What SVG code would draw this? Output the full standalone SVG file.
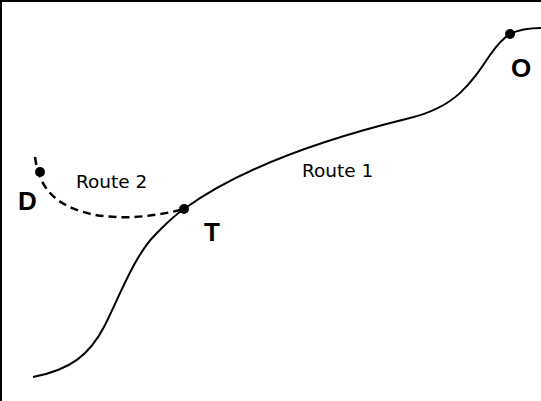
<svg xmlns="http://www.w3.org/2000/svg" width="541" height="401" viewBox="0 0 541 401">
<style>
.route{fill:none;stroke:#000;stroke-width:2}
.dash{stroke-width:2.5;stroke-dasharray:8 5}
.dot{fill:#000}
.lbl{font-family:"Liberation Sans",Arial,sans-serif;font-weight:bold;font-size:26px;fill:#000}
.rl{font-family:"DejaVu Sans","Liberation Sans",sans-serif;font-size:18.5px;fill:#000}
</style>
<rect x="1" y="1" width="545" height="405" fill="#fff" stroke="#000" stroke-width="2"/>
<g id="connectors">
<path id="route1" class="route" d="M33,377 C70,370 90,355 105,325 C120,295 135,255 155,235 C165,225 172,217 184,209 C240,168 320,140 410,118 C455,107 470,85 490,55 C497,45 503,38 510,34 C520,29 530,28 541,28"/>
<path id="route2" class="route dash" d="M35,157 C38,178 46,200 80,211 C110,221 150,218 184,209"/>
<text class="rl" x="76" y="188">Route 2</text>
<text class="rl" x="302" y="177">Route 1</text>
</g>
<g id="node-D"><circle class="dot" cx="40" cy="172" r="5"/><text class="lbl" x="18" y="210">D</text></g>
<g id="node-T"><circle class="dot" cx="184" cy="209" r="5"/><text class="lbl" x="204" y="241">T</text></g>
<g id="node-O"><circle class="dot" cx="510" cy="34" r="5"/><text class="lbl" x="511" y="77">O</text></g>
</svg>
